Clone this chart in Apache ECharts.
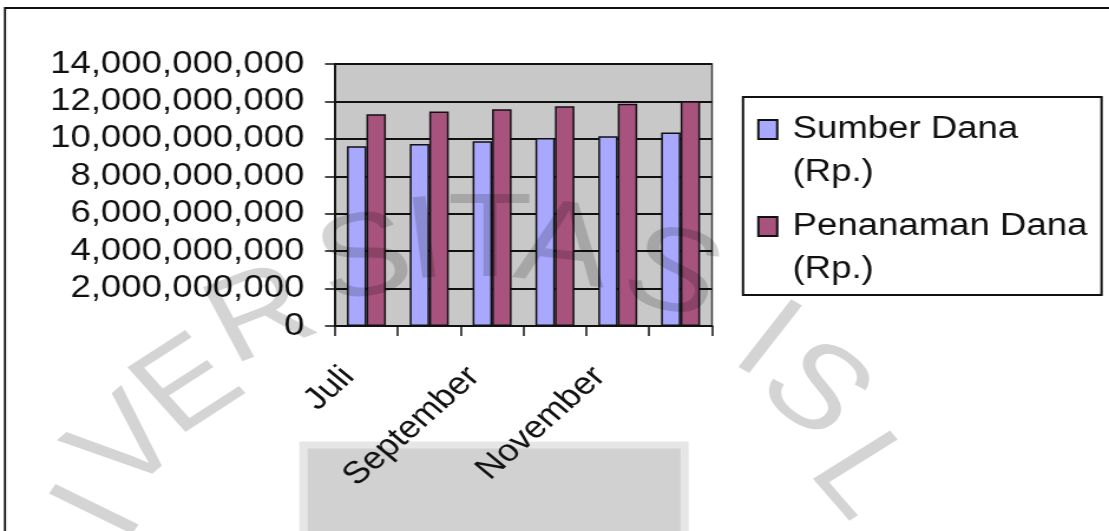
<!DOCTYPE html>
<html>
<head>
<meta charset="utf-8">
<script src="https://cdn.jsdelivr.net/npm/echarts@6/dist/echarts.min.js"></script>
<style>
  html, body { margin: 0; padding: 0; background: #fff; overflow: hidden; }
  #wrap { width: 1109px; height: 531px; overflow: hidden; }
  /* the chart is laid out on a narrower canvas and stretched sideways,
     which gives the wide, flattened lettering of the printed chart */
  #chart { width: 940px; height: 531px; transform: scaleX(1.1798); transform-origin: 0 0; }
</style>
</head>
<body>
<div id="wrap"><div id="chart"></div></div>
<script>
// ---- data ----
const months = ['Juli', 'Agustus', 'September', 'Oktober', 'November', 'Desember'];
const sumberDana = [9600000000, 9730000000, 9870000000, 10050000000, 10140000000, 10340000000];
const penanamanDana = [11310000000, 11460000000, 11580000000, 11740000000, 11870000000, 12010000000];
const seriesNames = ['Sumber Dana (Rp.)', 'Penanaman Dana (Rp.)'];
const yMin = 0;
const yMax = 14000000000;
const yStep = 2000000000;

// ---- layout ----
const SX = 1109 / 940;           // horizontal stretch applied by CSS
const FONT = '"Liberation Sans", Arial, sans-serif';
const INK = '#111';

// faint seal lettering printed behind the chart: [glyph, x, y, tilt in degrees]
const sealGlyphs = [
  ['I', 102, 513, -64],
  ['V', 130, 447, -50],
  ['E', 190, 388, -42],
  ['R', 262, 318, -28],
  ['S', 365, 262, -15],
  ['I', 425, 245, -7],
  ['T', 490, 243, 0],
  ['A', 563, 250, 9],
  ['S', 672, 277, 20],
  ['I', 765, 343, 38],
  ['S', 813, 392, 47],
  ['L', 860, 478, 58]
];

function tiltToRotation(deg) {
  const t = Math.tan(deg * Math.PI / 180) / SX;
  return -Math.atan(t);
}

const sealElements = sealGlyphs.map(function (g) {
  return {
    type: 'text',
    x: g[1] / SX,
    y: g[2],
    rotation: tiltToRotation(g[3]),
    z: 100,
    silent: true,
    style: {
      text: g[0],
      font: '118px ' + FONT,
      fill: 'rgba(0,0,0,0.17)',
      align: 'center',
      verticalAlign: 'middle'
    }
  };
});

const chart = echarts.init(document.getElementById('chart'), null, { renderer: 'canvas' });

chart.setOption({
  animation: false,
  backgroundColor: '#fff',
  textStyle: { fontFamily: FONT },
  grid: {
    left: 335 / SX,
    right: 940 - 712 / SX,
    top: 64,
    bottom: 531 - 326,
    show: true,
    backgroundColor: '#C8C8C8',
    borderColor: '#444',
    borderWidth: 1.5,
    containLabel: false
  },
  legend: {
    orient: 'vertical',
    left: 743 / SX,
    top: 97,
    padding: [10, 12, 3, 12],
    itemGap: 9,
    itemWidth: 16,
    itemHeight: 86,
    icon: 'path://M0,12H16V31H0Z M0,0L0.01,0 M0,86L0.01,86',
    borderColor: INK,
    borderWidth: 2,
    backgroundColor: 'transparent',
    formatter: function (name) { return name.replace(' (', '\n('); },
    textStyle: {
      fontFamily: FONT,
      fontSize: 31,
      lineHeight: 43,
      color: INK,
      padding: [0, 0, 0, 8]
    },
    data: seriesNames
  },
  xAxis: {
    type: 'category',
    data: months,
    boundaryGap: true,
    axisLine: { show: true, lineStyle: { color: INK, width: 2 } },
    axisTick: { show: true, interval: 0, length: 10, lineStyle: { color: INK, width: 1.5 } },
    axisLabel: {
      interval: 1,
      rotate: 46,
      margin: 30,
      padding: [0, 22, 0, 0],
      fontFamily: FONT,
      fontSize: 31,
      color: INK
    },
    splitLine: { show: false }
  },
  yAxis: {
    type: 'value',
    min: yMin,
    max: yMax,
    interval: yStep,
    axisLine: { show: true, lineStyle: { color: INK, width: 1.8 } },
    axisTick: { show: true, length: 8.5, lineStyle: { color: INK, width: 1.5 } },
    axisLabel: {
      margin: 26,
      fontFamily: FONT,
      fontSize: 31,
      color: INK,
      formatter: function (v) { return v.toLocaleString('en-US'); }
    },
    splitLine: { show: true, lineStyle: { color: INK, width: 2 } }
  },
  series: [
    {
      name: seriesNames[0],
      type: 'bar',
      data: sumberDana,
      barGap: '0%',
      barCategoryGap: '38%',
      itemStyle: { color: '#A8A8FF', borderColor: INK, borderWidth: 1.5 }
    },
    {
      name: seriesNames[1],
      type: 'bar',
      data: penanamanDana,
      barGap: '0%',
      barCategoryGap: '38%',
      itemStyle: { color: '#A8527E', borderColor: INK, borderWidth: 1.5 }
    }
  ],
  graphic: [
    {
      // outer frame of the chart object
      type: 'rect',
      z: 50,
      silent: true,
      shape: { x: 5 / SX, y: 8, width: 2000, height: 2000 },
      style: { fill: 'none', stroke: INK, lineWidth: 1.8 }
    },
    {
      // grey strip along the bottom of the page
      type: 'rect',
      z: -1,
      silent: true,
      shape: { x: 303.5 / SX, y: 445, width: (684.5 - 303.5) / SX, height: 200 },
      style: { fill: '#D1D1D1', stroke: '#E6E6E6', lineWidth: 7 }
    }
  ].concat(sealElements)
});
</script>
</body>
</html>
